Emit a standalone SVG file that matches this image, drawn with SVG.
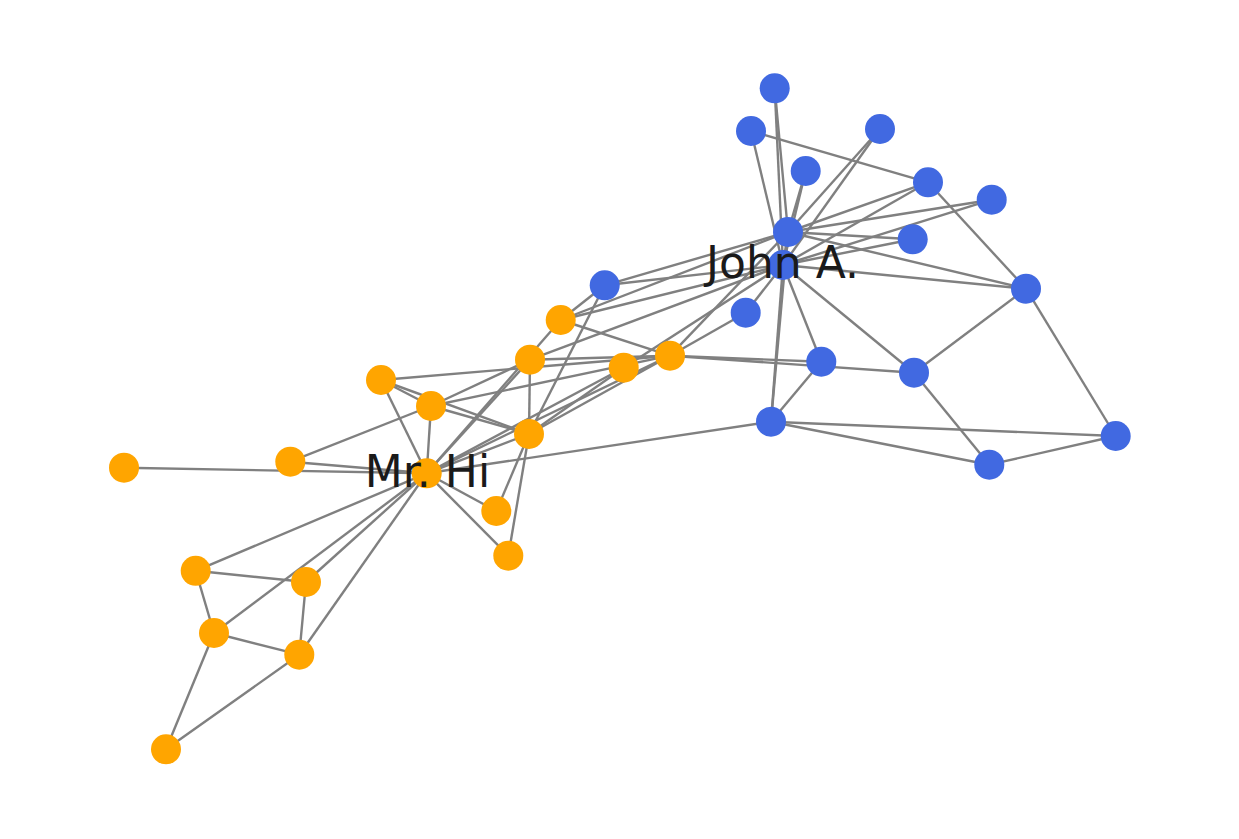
<svg xmlns="http://www.w3.org/2000/svg" width="1239" height="839" viewBox="0 0 1239 839">
<style>
.e line{stroke:#808080;stroke-width:2.4;}
.o{fill:#FFA500;}
.b{fill:#4169E1;}
.lbl{font-family:"DejaVu Sans",sans-serif;font-size:44px;fill:#1a1a1a;text-anchor:middle;}
</style>
<rect width="1239" height="839" fill="#fff"/>
<g id="connectors" class="e">
<line x1="426.7" y1="473.3" x2="529" y2="434"/>
<line x1="426.7" y1="473.3" x2="670" y2="355.7"/>
<line x1="426.7" y1="473.3" x2="431" y2="406"/>
<line x1="426.7" y1="473.3" x2="306" y2="582"/>
<line x1="426.7" y1="473.3" x2="214" y2="633"/>
<line x1="426.7" y1="473.3" x2="299.3" y2="654.7"/>
<line x1="426.7" y1="473.3" x2="381" y2="380"/>
<line x1="426.7" y1="473.3" x2="560.7" y2="320"/>
<line x1="426.7" y1="473.3" x2="195.7" y2="570.8"/>
<line x1="426.7" y1="473.3" x2="124" y2="467.7"/>
<line x1="426.7" y1="473.3" x2="290.3" y2="461.7"/>
<line x1="426.7" y1="473.3" x2="530" y2="359.7"/>
<line x1="426.7" y1="473.3" x2="496.3" y2="511"/>
<line x1="426.7" y1="473.3" x2="623.7" y2="367.7"/>
<line x1="426.7" y1="473.3" x2="508.3" y2="555.7"/>
<line x1="426.7" y1="473.3" x2="771" y2="421.7"/>
<line x1="529" y1="434" x2="670" y2="355.7"/>
<line x1="529" y1="434" x2="431" y2="406"/>
<line x1="529" y1="434" x2="381" y2="380"/>
<line x1="529" y1="434" x2="530" y2="359.7"/>
<line x1="529" y1="434" x2="496.3" y2="511"/>
<line x1="529" y1="434" x2="623.7" y2="367.7"/>
<line x1="529" y1="434" x2="508.3" y2="555.7"/>
<line x1="529" y1="434" x2="604.7" y2="285.3"/>
<line x1="670" y1="355.7" x2="431" y2="406"/>
<line x1="670" y1="355.7" x2="381" y2="380"/>
<line x1="670" y1="355.7" x2="560.7" y2="320"/>
<line x1="670" y1="355.7" x2="745.7" y2="312.7"/>
<line x1="670" y1="355.7" x2="530" y2="359.7"/>
<line x1="670" y1="355.7" x2="914" y2="372.7"/>
<line x1="670" y1="355.7" x2="821.3" y2="361.7"/>
<line x1="670" y1="355.7" x2="788" y2="232"/>
<line x1="431" y1="406" x2="381" y2="380"/>
<line x1="431" y1="406" x2="290.3" y2="461.7"/>
<line x1="431" y1="406" x2="530" y2="359.7"/>
<line x1="306" y1="582" x2="299.3" y2="654.7"/>
<line x1="306" y1="582" x2="195.7" y2="570.8"/>
<line x1="214" y1="633" x2="299.3" y2="654.7"/>
<line x1="214" y1="633" x2="195.7" y2="570.8"/>
<line x1="214" y1="633" x2="166" y2="749.3"/>
<line x1="299.3" y1="654.7" x2="166" y2="749.3"/>
<line x1="560.7" y1="320" x2="604.7" y2="285.3"/>
<line x1="560.7" y1="320" x2="788" y2="232"/>
<line x1="560.7" y1="320" x2="783" y2="265"/>
<line x1="745.7" y1="312.7" x2="783" y2="265"/>
<line x1="530" y1="359.7" x2="783" y2="265"/>
<line x1="774.7" y1="88.3" x2="788" y2="232"/>
<line x1="774.7" y1="88.3" x2="783" y2="265"/>
<line x1="880" y1="129" x2="788" y2="232"/>
<line x1="880" y1="129" x2="783" y2="265"/>
<line x1="805.7" y1="171" x2="788" y2="232"/>
<line x1="805.7" y1="171" x2="783" y2="265"/>
<line x1="623.7" y1="367.7" x2="783" y2="265"/>
<line x1="991.7" y1="199.7" x2="788" y2="232"/>
<line x1="991.7" y1="199.7" x2="783" y2="265"/>
<line x1="912.7" y1="239.3" x2="788" y2="232"/>
<line x1="912.7" y1="239.3" x2="783" y2="265"/>
<line x1="1026" y1="288.7" x2="1115.7" y2="436"/>
<line x1="1026" y1="288.7" x2="914" y2="372.7"/>
<line x1="1026" y1="288.7" x2="928" y2="182.3"/>
<line x1="1026" y1="288.7" x2="788" y2="232"/>
<line x1="1026" y1="288.7" x2="783" y2="265"/>
<line x1="989.3" y1="464.7" x2="1115.7" y2="436"/>
<line x1="989.3" y1="464.7" x2="914" y2="372.7"/>
<line x1="989.3" y1="464.7" x2="771" y2="421.7"/>
<line x1="1115.7" y1="436" x2="771" y2="421.7"/>
<line x1="751" y1="131" x2="928" y2="182.3"/>
<line x1="751" y1="131" x2="783" y2="265"/>
<line x1="914" y1="372.7" x2="783" y2="265"/>
<line x1="821.3" y1="361.7" x2="771" y2="421.7"/>
<line x1="821.3" y1="361.7" x2="783" y2="265"/>
<line x1="928" y1="182.3" x2="788" y2="232"/>
<line x1="928" y1="182.3" x2="783" y2="265"/>
<line x1="604.7" y1="285.3" x2="788" y2="232"/>
<line x1="604.7" y1="285.3" x2="783" y2="265"/>
<line x1="771" y1="421.7" x2="788" y2="232"/>
<line x1="771" y1="421.7" x2="783" y2="265"/>
<line x1="788" y1="232" x2="783" y2="265"/>
</g>
<g id="n0"><circle class="o" cx="426.7" cy="473.3" r="15"/></g>
<g id="n1"><circle class="o" cx="529" cy="434" r="15"/></g>
<g id="n2"><circle class="o" cx="670" cy="355.7" r="15"/></g>
<g id="n3"><circle class="o" cx="431" cy="406" r="15"/></g>
<g id="n4"><circle class="o" cx="306" cy="582" r="15"/></g>
<g id="n5"><circle class="o" cx="214" cy="633" r="15"/></g>
<g id="n6"><circle class="o" cx="299.3" cy="654.7" r="15"/></g>
<g id="n7"><circle class="o" cx="381" cy="380" r="15"/></g>
<g id="n8"><circle class="o" cx="560.7" cy="320" r="15"/></g>
<g id="n9"><circle class="b" cx="745.7" cy="312.7" r="15"/></g>
<g id="n10"><circle class="o" cx="195.7" cy="570.8" r="15"/></g>
<g id="n11"><circle class="o" cx="124" cy="467.7" r="15"/></g>
<g id="n12"><circle class="o" cx="290.3" cy="461.7" r="15"/></g>
<g id="n13"><circle class="o" cx="530" cy="359.7" r="15"/></g>
<g id="n14"><circle class="b" cx="774.7" cy="88.3" r="15"/></g>
<g id="n15"><circle class="b" cx="880" cy="129" r="15"/></g>
<g id="n16"><circle class="o" cx="166" cy="749.3" r="15"/></g>
<g id="n17"><circle class="o" cx="496.3" cy="511" r="15"/></g>
<g id="n18"><circle class="b" cx="805.7" cy="171" r="15"/></g>
<g id="n19"><circle class="o" cx="623.7" cy="367.7" r="15"/></g>
<g id="n20"><circle class="b" cx="991.7" cy="199.7" r="15"/></g>
<g id="n21"><circle class="o" cx="508.3" cy="555.7" r="15"/></g>
<g id="n22"><circle class="b" cx="912.7" cy="239.3" r="15"/></g>
<g id="n23"><circle class="b" cx="1026" cy="288.7" r="15"/></g>
<g id="n24"><circle class="b" cx="989.3" cy="464.7" r="15"/></g>
<g id="n25"><circle class="b" cx="1115.7" cy="436" r="15"/></g>
<g id="n26"><circle class="b" cx="751" cy="131" r="15"/></g>
<g id="n27"><circle class="b" cx="914" cy="372.7" r="15"/></g>
<g id="n28"><circle class="b" cx="821.3" cy="361.7" r="15"/></g>
<g id="n29"><circle class="b" cx="928" cy="182.3" r="15"/></g>
<g id="n30"><circle class="b" cx="604.7" cy="285.3" r="15"/></g>
<g id="n31"><circle class="b" cx="771" cy="421.7" r="15"/></g>
<g id="n32"><circle class="b" cx="788" cy="232" r="15"/></g>
<g id="n33"><circle class="b" cx="783" cy="265" r="15"/></g>
<g id="labels">
<text class="lbl" x="427.5" y="486.7">Mr. Hi</text>
<text class="lbl" x="782.5" y="278.3">John A.</text>
</g>
</svg>
